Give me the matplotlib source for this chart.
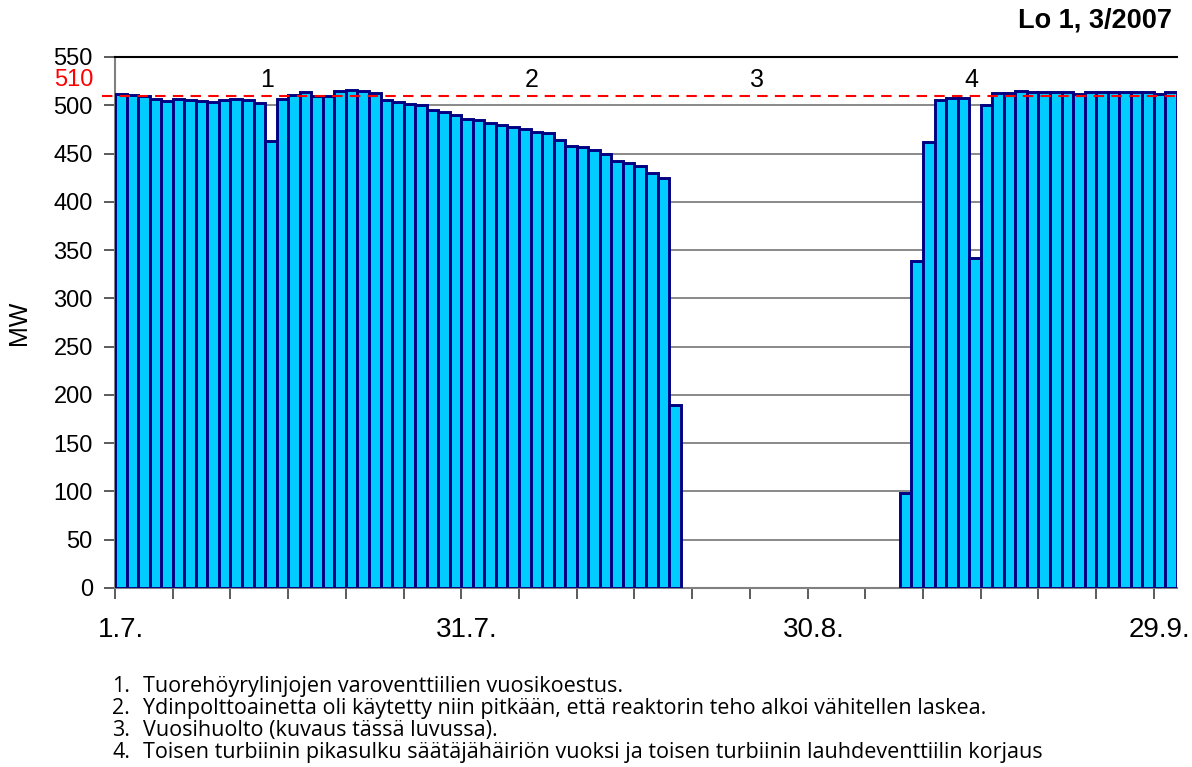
import numpy as np
import matplotlib.pyplot as plt

plt.rcParams['font.family'] = ['Liberation Sans', 'DejaVu Sans']

# Loviisa 1, vuorokauden keskiteho (MW) 1.7.-30.9.2007
paivat = ['1.7.', '31.7.', '30.8.', '29.9.']
paiva_nro = [0, 30, 60, 90]
teho_ennen = [512, 511, 510, 507, 504, 506, 505, 504, 503, 505, 506, 505, 502,
              463,
              507, 511, 514, 510, 510, 515, 516, 515, 513, 505, 503, 501, 500,
              495, 493, 490, 486, 485, 482, 480, 478, 475, 472, 471,
              464, 458, 457, 454, 450, 442, 440, 437, 430, 425,
              190]
teho_jalkeen = [98, 339, 462, 505, 508, 508, 342, 500,
                513, 513, 515, 514, 514, 514, 514, 512, 514, 514, 514, 514, 514, 514, 512, 514]
alku_jalkeen = 68
paivia = 92
raja = 510
merkinnat = ['1', '2', '3', '4']
merkinta_x = [12.7, 35.6, 55.1, 73.7]
selitteet = [
    'Tuorehöyrylinjojen varoventtiilien vuosikoestus.',
    'Ydinpolttoainetta oli käytetty niin pitkään, että reaktorin teho alkoi vähitellen laskea.',
    'Vuosihuolto (kuvaus tässä luvussa).',
    'Toisen turbiinin pikasulku säätäjähäiriön vuoksi ja toisen turbiinin lauhdeventtiilin korjaus',
]

fig = plt.figure(figsize=(11.92, 7.67), dpi=100)
ax = fig.add_axes([0.0965, 0.2334, 0.8909, 0.6923])

x1 = np.arange(len(teho_ennen))
x2 = np.arange(alku_jalkeen, alku_jalkeen + len(teho_jalkeen))
for x, y in [(x1, teho_ennen), (x2, teho_jalkeen)]:
    ax.bar(x, y, width=1.0, color='#00CCFF', edgecolor='#000080', linewidth=2.1, zorder=3)

ax.set_xlim(-0.5, paivia - 0.5)
ax.set_ylim(0, 550)
ax.set_yticks(np.arange(0, 551, 50))
ax.yaxis.grid(True, color='#808080', linewidth=1.3, zorder=0)
ax.set_axisbelow(True)

ax.plot([-1.6, paivia - 0.6], [raja, raja], color='red', linestyle=(0, (5, 3.5)),
        linewidth=1.5, zorder=4, clip_on=False)
ax.text(-2.4, 526, str(raja), color='red', fontsize=17, ha='right', va='center')

for m, mx in zip(merkinnat, merkinta_x):
    ax.text(mx, 526, m, fontsize=18, ha='center', va='center')

ax.set_xticks(paiva_nro)
ax.set_xticklabels(paivat)
ax.set_xticks(np.arange(-0.5, paivia - 1, 5), minor=True)
ax.tick_params(axis='x', which='major', length=0, pad=21, labelsize=20)
ax.tick_params(axis='x', which='minor', length=8, width=1.2, color='#404040', direction='out')
ax.tick_params(axis='y', length=16, width=1.2, color='#404040', direction='inout', pad=8, labelsize=17)

for s in ['left', 'bottom']:
    ax.spines[s].set_color('#808080')
    ax.spines[s].set_linewidth(1.5)
ax.spines['top'].set_color('black')
ax.spines['top'].set_linewidth(1.5)
ax.spines['right'].set_visible(False)

ax.set_ylabel('MW', fontsize=18, labelpad=16)

fig.text(0.983, 0.973, 'Lo 1, 3/2007', fontsize=19.5, fontweight='bold', ha='right', va='center')

for i, t in enumerate(selitteet):
    y = 1 - (692 + 22 * i) / 767
    fig.text(0.094, y, f'{i + 1}.', fontsize=15.5, family='Open Sans', ha='left', va='baseline')
    fig.text(0.12, y, t, fontsize=15.5, family='Open Sans', ha='left', va='baseline')

fig.savefig('out.png', dpi=100)
